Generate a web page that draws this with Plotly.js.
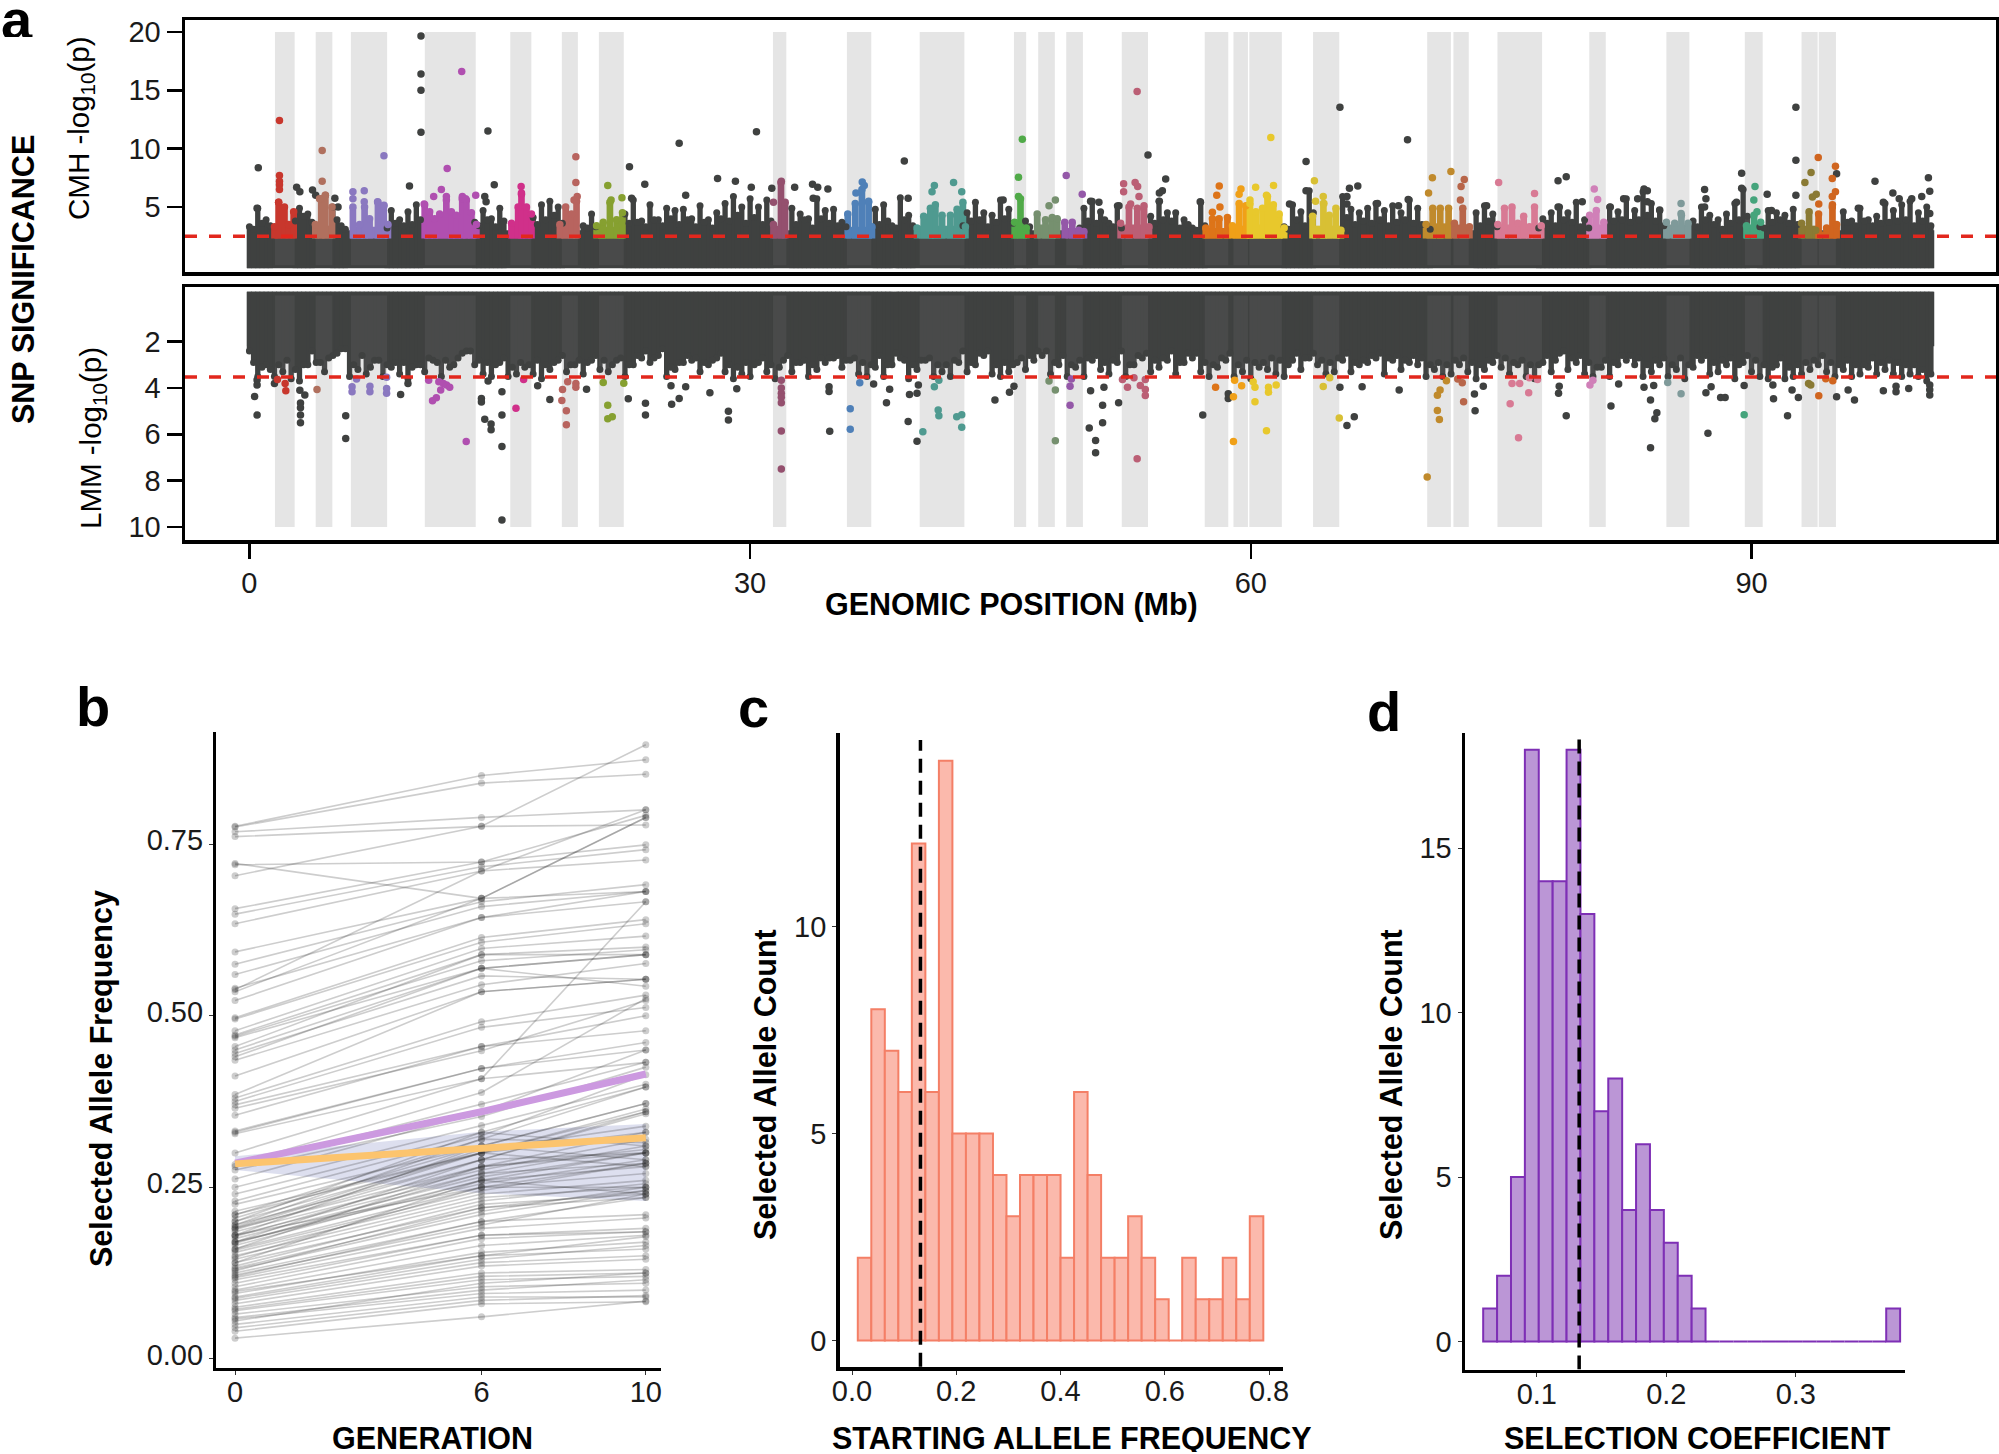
<!DOCTYPE html>
<html>
<head>
<meta charset="utf-8">
<script src="https://cdn.plot.ly/plotly-3.0.1.min.js"></script>
<style>html,body{margin:0;padding:0;background:#fff}</style>
</head>
<body>
<div id="chart"></div>
<script>
'use strict';

// candidate regions, Mb
const regionStart = [1.53,3.97,6.08,10.51,15.63,18.72,20.94,31.37,35.80,40.16,45.81,47.26,48.94,52.27,57.24,58.96,59.91,63.73,70.57,72.14,74.78,80.28,84.90,89.60,93.00,94.03];
const regionEnd   = [2.71,4.97,8.25,13.56,16.89,19.68,22.43,32.17,37.26,42.84,46.54,48.26,49.94,53.84,58.65,59.83,61.86,65.30,71.99,73.06,77.45,81.27,86.28,90.67,93.96,95.06];
const regionColor = ['#c8372d','#b0705e','#8a78c0','#b04fb0','#d0308a','#b8645f','#86a030','#94506e','#4f80b8','#4f9a90','#50aa48','#76906f','#9458a8','#bb5f75','#dd7418','#f0a018','#e8c82c','#d8c034','#c08a2c','#b8664a','#d87a94','#d080b8','#7f9a9a','#45a47c','#8a7a34','#d0651f'];
const regionSolidTop = [3.3,3.4,3.3,3.6,3.6,3.4,3.3,3.4,3.3,3.4,3.3,3.5,3.2,3.5,3.2,3.4,3.5,3.4,3.6,3.5,3.5,3.5,3.5,3.5,3.4,2.9];

const massStart = [-0.15,38.7];
const massEnd   = [38.55,100.95];

const cmhThreshold = 2.49;
const lmmThreshold = 3.52;

// dark skyline above the solid mass, one value per 0.5 Mb from 0; 0 = covered by a region
const cmhSkyline = [
  3.3,4.9,3.9,0,0,0,4.9,4.4,0,0,5.0,3.4,0,0,0,0,0,4.7,3.9,4.6,
  5.2,0,0,0,0,0,0,3.7,4.7,4.0,4.9,0,0,0,4.1,5.2,5.5,5.0,0,0,
  3.4,4.4,0,0,0,4.4,5.6,3.8,5.2,3.9,4.9,4.7,4.8,4.0,5.1,3.9,4.5,5.3,5.9,5.0,
  5.7,5.0,5.6,0,0,4.9,4.4,4.0,5.7,4.7,4.8,3.7,0,0,0,4.8,5.2,3.4,5.8,4.3,
  0,0,0,0,0,0,4.5,5.4,4.5,4.3,5.6,4.8,0,3.8,0,0,0,0,0,0,
  4.9,5.5,4.6,3.6,5.1,0,0,0,4.2,5.5,4.5,4.5,3.9,3.2,5.4,0,0,0,0,0,
  0,0,0,0,3.3,5.2,4.6,6.4,0,0,0,5.9,4.8,4.5,4.9,5.3,4.7,5.1,4.5,5.6,
  4.9,3.5,0,0,0,0,0,4.5,5.1,4.4,0,0,0,0,0,4.0,4.5,5.0,4.5,5.4,
  3.9,0,0,5.0,4.6,5.7,4.7,6.3,5.3,4.7,0,0,0,3.8,5.0,4.3,3.9,4.4,5.3,6.5,
  0,3.3,4.7,4.5,4.3,4.8,0,0,0,0,0,4.6,3.8,4.9,3.9,4.2,5.3,4.7,5.2,5.5,4.5,5.0
];
// lower columns in between, one per 0.5 Mb from 0.25
const cmhShoulder = [
  3.1,3.6,3.4,0,0,3.8,4.2,3.7,0,0,3.9,3.1,0,0,0,0,3.2,3.6,3.4,3.5,
  3.9,0,0,0,0,0,0,3.4,3.9,3.3,3.8,0,0,0,3.5,3.9,4.3,3.6,0,0,
  3.2,3.3,0,0,0,3.6,3.7,3.3,3.9,3.4,4.0,3.5,3.9,3.3,3.7,3.2,4.0,3.8,4.3,3.6,
  4.1,3.5,3.8,0,0,3.5,3.9,3.2,4.0,3.6,3.4,3.3,0,0,0,3.5,3.8,3.2,3.9,3.4,
  0,0,0,0,0,3.4,3.8,3.9,3.3,3.7,4.0,3.6,0,3.3,0,0,0,0,0,3.2,
  3.8,3.6,3.9,3.3,3.2,0,0,0,3.6,3.9,3.8,3.2,3.5,3.0,3.4,0,0,0,0,0,
  0,0,0,0,3.1,3.9,3.4,4.5,0,0,0,4.1,3.5,3.8,3.6,3.9,3.4,3.7,3.9,3.6,
  3.5,3.1,0,0,0,0,0,3.4,3.8,3.3,0,0,0,0,3.2,3.6,3.4,3.9,3.7,3.3,
  3.2,0,0,3.8,3.9,3.7,3.9,4.3,3.8,3.4,0,0,0,3.3,3.9,3.5,3.1,3.6,3.9,4.2,
  0,3.2,3.7,3.9,3.6,3.5,0,0,0,0,0,3.7,3.4,3.8,3.4,3.6,3.7,3.8,3.9,3.4,3.8,3.4
];
const lmmSkyline = [
  2.4,3.5,3.0,3.5,3.3,3.6,3.7,3.0,2.9,3.3,2.6,2.3,3.5,3.2,3.4,2.8,3.5,3.1,3.4,3.6,
  3.0,3.3,2.8,3.5,3.1,2.7,2.4,3.0,3.4,3.5,2.9,3.5,3.4,3.1,3.4,3.6,3.2,2.8,3.3,3.0,
  3.4,2.8,3.2,3.3,2.8,3.5,3.0,2.7,2.9,2.6,3.5,3.2,2.9,2.8,3.3,3.0,2.7,3.3,3.6,3.4,
  3.5,2.9,3.3,3.6,2.8,3.3,2.9,3.5,3.2,2.9,2.7,3.1,2.8,3.4,3.5,3.1,3.5,3.0,2.7,3.6,
  3.2,2.8,3.5,3.3,3.5,2.9,3.3,3.0,2.6,3.4,3.5,3.3,2.9,3.2,2.8,2.6,3.4,3.0,3.5,3.1,
  3.5,2.8,3.2,3.4,2.9,3.5,3.0,2.7,3.3,3.1,2.8,3.4,2.9,2.7,3.3,3.5,3.1,2.8,3.5,3.3,
  3.6,3.1,3.2,3.4,3.5,2.8,3.2,2.7,3.0,3.4,3.3,2.8,3.3,3.0,2.9,2.7,3.4,2.8,3.2,2.9,
  3.0,3.5,3.2,3.5,3.4,3.0,3.3,3.6,3.2,2.9,3.1,3.4,3.0,3.5,3.6,2.9,3.3,2.5,3.2,2.9,
  3.4,3.5,3.1,3.5,3.0,2.8,3.0,3.5,3.3,3.0,3.5,3.2,3.6,3.1,2.8,3.4,3.3,3.0,3.6,2.9,
  3.3,3.5,3.6,3.0,3.6,3.5,3.4,3.2,3.0,3.3,3.5,3.2,3.5,3.4,3.1,3.4,3.2,3.4,3.5,3.4,3.5,3.7
];
const lmmShoulder = [
  2.9,3.1,3.2,3.0,2.8,3.2,3.0,2.4,2.9,2.7,2.5,2.3,3.0,2.6,3.1,2.8,3.0,2.9,2.9,3.1,
  3.0,2.7,2.9,2.8,3.0,2.5,2.4,2.8,2.9,3.0,2.7,3.1,2.9,3.0,2.8,3.0,2.9,2.6,3.0,2.8,
  2.9,2.6,2.8,3.0,2.7,3.0,2.6,2.4,2.7,2.3,3.1,2.9,2.6,2.7,2.9,2.8,2.5,3.0,3.1,2.9,
  3.0,2.7,3.0,3.1,2.6,2.9,2.8,3.0,2.7,2.7,2.6,2.8,2.7,2.9,3.0,2.6,3.0,2.5,2.8,3.0,
  2.8,2.7,3.0,3.0,2.8,2.4,2.9,2.5,2.4,3.0,2.9,3.0,2.7,2.6,2.4,2.4,2.9,2.6,3.0,2.8,
  2.7,2.6,2.9,2.8,2.4,3.0,2.6,2.5,2.8,2.7,2.4,2.9,2.5,2.5,2.9,3.0,2.7,2.5,3.0,2.8,
  2.9,2.9,2.7,2.8,3.0,2.5,2.7,2.5,2.8,2.9,2.7,2.5,2.9,2.8,2.6,2.5,2.7,2.6,2.8,2.6,
  2.7,3.0,2.9,3.0,2.8,2.7,2.9,3.0,2.8,2.6,2.7,2.9,2.8,3.0,3.0,2.6,2.8,2.4,2.7,2.6,
  2.9,3.1,2.8,2.9,2.6,2.6,2.7,3.0,2.8,2.7,3.0,2.7,3.0,2.6,2.6,2.9,2.8,2.7,3.0,2.6,
  2.8,3.0,3.1,2.7,3.1,3.0,2.9,2.8,2.6,2.9,3.0,2.8,3.0,3.0,2.7,2.9,2.8,2.9,3.0,3.0,3.2,3.4
];

// single dark SNPs [Mb, -log10 p]
const cmhDark = [[.53,8.37],[.46,4.9],[2.83,6.7],[3.02,6.3],[3.78,6.45],[3.97,6],[5.12,5.75],[5.31,5],[10.28,19.65],[10.28,16.4],[10.28,15],[10.28,11.4],[9.59,6.8],[14.29,11.5],[14.67,6.9],[14.1,5.9],[14.18,5.45],[22.77,8.45],[23.69,6.95],[22.9,5.75],[25.75,10.45],[28.05,7.45],[26.14,6],[29.12,7.2],[30.07,6.7],[30.38,11.45],[31.3,6.6],[32.67,6.7],[33.74,6.95],[34.05,6.7],[34.66,6.55],[33.78,5.75],[39.24,8.95],[39.47,5.75],[45.16,5.6],[53.84,9.45],[54.9,7.4],[54.7,6.4],[54.52,6.2],[54.52,5.5],[50.9,5.4],[50.4,5.5],[52.1,5.1],[56.97,5.45],[65.34,13.55],[63.31,8.9],[63.31,6.4],[66.41,6.8],[65.91,6.6],[65.76,5.9],[65.76,5.25],[62.32,5.25],[67.59,5.3],[69.43,5.65],[69.39,10.75],[68.85,5.1],[74.13,5.1],[78.41,7.25],[78.9,7.6],[78.41,5],[79.86,5.45],[83.56,6.55],[83.76,6.4],[82.34,5.7],[83.18,5.7],[81.54,5],[83.76,5.45],[87.19,6.5],[87.27,5.7],[87.19,5],[89.1,5.4],[89.41,7.9],[89.41,6.6],[90.94,6.1],[92.66,13.55],[92.66,9],[92.66,6],[95.1,7.85],[97.4,7.2],[98.47,6.2],[97.9,5.4],[98.85,5.7],[99.6,5.7],[100.2,5.9],[100.6,7.5],[100.68,6.35],[100.68,4.45],[84.5,4.75],[96.4,4.9],[91.2,4.7]];
const lmmDark = [[.31,4.37],[.46,5.17],[.46,3.65],[.46,3.87],[1.5,3.8],[3.02,4.1],[3.32,4.3],[3.06,4.65],[3.06,4.85],[3.06,5.17],[3.06,5.5],[5.77,5.2],[5.77,6.18],[9.06,4.28],[9.5,3.8],[13.9,4.45],[13.9,4.6],[14.3,3.7],[14.1,5.35],[14.48,5.55],[14.48,5.8],[15.13,5.17],[15.13,4.16],[15.13,6.53],[15.13,9.7],[17.27,3.9],[18,4.5],[20.2,4.05],[22.7,4.46],[23.73,4.66],[23.73,5.17],[25.26,3.9],[25.3,4.7],[25.75,4.45],[26.14,3.95],[27.59,4.2],[28.7,5],[28.7,5.38],[29.2,4.03],[34.77,5.87],[34.73,3.95],[34.73,4.15],[37.4,3.83],[38.36,4.05],[38.17,4.64],[39.47,5.45],[39.55,4.28],[40,6.3],[40.08,3.87],[40,4.23],[44.67,4.52],[45.54,4.18],[45.81,3.92],[50.32,5.73],[50.7,6.27],[50.7,6.8],[51.12,5.5],[51.12,4.74],[50.4,4.12],[51.2,3.97],[52.08,4.64],[57.12,5.17],[58.65,4.45],[58.65,4.25],[65.34,3.97],[66.2,5.24],[65.76,5.62],[66.67,3.95],[68.89,4.09],[73.4,4.26],[73.44,4.98],[73.93,3.92],[78.48,3.92],[78.44,4.23],[78.9,5.2],[81.58,4.78],[82.04,3.83],[83.56,3.97],[84.14,3.89],[83.95,4.52],[84.33,5.07],[84.21,5.33],[83.95,6.58],[87.39,5.95],[87.27,4.2],[87.58,3.95],[88.15,4.41],[88.42,4.41],[89.56,3.89],[91.32,4.46],[91.28,3.87],[92.16,5.2],[92.43,4.09],[92.81,4.41],[95.1,4.38],[95.79,4.09],[96.17,4.52],[97.9,4.12],[98.66,3.92],[98.66,4.16],[99.42,4.02],[100.68,3.87],[100.68,4.3],[100.68,4.08]];

// coloured columns inside the regions [region, Mb, top]
const cmhColumns = [
  [0,1.5,3.3],[0,1.75,5.4],[0,2.1,5],[0,2.35,3.5],[0,2.65,4.6],
  [1,3.95,3.5],[1,4.3,5.7],[1,4.55,6],[1,4.95,5],
  [2,6.2,5],[2,6.6,3.5],[2,6.9,5],[2,7.2,4],[2,7.7,5.4],[2,8.05,5.1],[2,8.3,3.5],
  [3,10.5,5.2],[3,10.8,4.6],[3,11.1,4],[3,11.4,4.4],[3,11.8,5.6],[3,12.1,4.6],[3,12.4,4.3],[3,12.75,5.7],[3,13,5.6],[3,13.3,4.5],[3,13.6,3.5],
  [4,15.7,3.6],[4,16.1,5],[4,16.3,6.1],[4,16.6,5],[4,16.9,4.4],
  [5,18.6,3.5],[5,18.95,5],[5,19.3,4.4],[5,19.6,5.5],
  [6,20.8,3.4],[6,21.2,3.7],[6,21.6,5.4],[6,22,3.9],[6,22.35,4.5],
  [7,31.4,3.5],[7,31.85,7.1],[7,32.1,5.4],
  [8,35.85,4.4],[8,36.3,5.3],[8,36.7,6.5],[8,37.1,5.4],[8,37.3,3.3],
  [9,40,3.2],[9,40.4,4.2],[9,40.8,4.9],[9,41.1,5.2],[9,41.5,4.3],[9,42,4.3],[9,42.4,4.8],[9,42.75,5.4],[9,42.9,3.3],
  [10,45.85,3.7],[10,46.2,5.7],[10,46.55,3.2],
  [11,47.2,4.4],[11,47.7,3.9],[11,48.1,4.1],[11,48.4,4],
  [12,48.85,3.7],[12,49.3,3.7],[12,49.7,3],[12,50,2.9],
  [13,52.2,3.6],[13,52.7,5],[13,53.2,4.9],[13,53.6,5.1],[13,53.9,3.3],
  [14,57.3,3.2],[14,57.7,4],[14,58.1,4],[14,58.6,4.1],
  [15,58.9,3.4],[15,59.3,5.3],[15,59.7,5.1],
  [16,59.95,5.3],[16,60.3,4.6],[16,60.7,4.9],[16,61,5.9],[16,61.35,5.2],[16,61.7,4.4],[16,62,3.2],
  [17,63.7,4.2],[17,64.35,5.3],[17,64.7,4.3],[17,65.1,4.9],[17,65.4,3],
  [18,70.5,3.5],[18,70.9,4.9],[18,71.35,4.9],[18,71.85,4.9],
  [19,72.2,3.6],[19,72.7,4.9],[19,73.1,3.3],
  [20,74.8,3.5],[20,75.2,4.9],[20,75.65,5],[20,76,3.6],[20,76.35,4.2],[20,76.7,3.3],[20,77,5],[20,77.4,3.4],
  [21,80.3,4.3],[21,80.7,4.7],[21,81.15,3.7],
  [22,84.9,3.7],[22,85.4,3.6],[22,85.8,4.3],[22,86.2,3.6],
  [23,89.7,3.4],[23,90.15,4.3],[23,90.55,3.7],
  [24,93,3.6],[24,93.45,4.6],[24,93.85,3],
  [25,94.02,4.4],[25,94.5,3.2],[25,94.85,5.2],[25,95.1,3.5]
];

// coloured single SNPs [region, Mb, -log10 p]
const cmhHits = [
  [0,1.8,12.4],[0,1.8,7.7],[0,1.8,7.2],[0,1.8,6.9],[0,1.8,6.5],[0,1.75,5.4],
  [1,4.36,9.85],[1,4.36,7.2],[1,4.55,6],[1,4.2,5.7],
  [2,8.06,9.4],[2,6.2,6.3],[2,6.2,5.7],[2,6.88,6.4],[2,6.88,5.45],[2,7.68,5.45],[2,8.06,5.15],
  [3,12.72,16.6],[3,11.85,8.3],[3,11.5,6.5],[3,11.04,5.9],[3,11.8,5.9],[3,12.76,5.9],[3,12.95,5.7],[3,13.56,6],[3,10.47,5.25],
  [4,16.28,6.75],[4,16.3,6.2],
  [5,19.56,9.3],[5,19.56,7.1],[5,19.64,5.9],[5,19.45,5.6],
  [6,21.47,6.85],[6,22.32,5.8],[6,21.67,5.6],
  [7,31.87,7.2],[7,31.4,5.4],
  [8,36.72,7.15],[8,36.84,6.85],[8,36.34,6.2],[8,37.1,5.5],
  [9,41.04,6.85],[9,42.19,7.1],[9,40.9,6.3],[9,42.68,6.3],
  [10,46.31,10.8],[10,46.08,7.55],[10,46.08,5.9],
  [11,48.29,5.6],[11,47.91,5.1],
  [12,48.94,7.7],[12,49.9,6.1],
  [13,53.19,14.9],[13,52.38,7],[13,52.38,6.3],[13,53.07,7.1],[13,53.22,6.75],[13,53.3,5.9],[13,52.8,5.25],
  [14,58.11,6.8],[14,57.96,6],[14,58.15,5],[14,57.7,4.55],
  [15,59.41,6.55],[15,59.3,6.1],
  [16,61.2,10.95],[16,61.36,6.85],[16,60.29,6.7],[16,59.95,5.6],[16,60.94,6],
  [17,63.81,7.25],[17,64.34,5.9],[17,63.88,5.5],[17,64.38,5.3],
  [18,70.88,7.5],[18,71.99,8.05],[18,70.65,6.2],
  [19,72.79,7.35],[19,72.6,6.75],[19,72.56,5.6],
  [20,74.85,7.1],[20,77,6.15],
  [21,80.58,6.55],[21,80.78,5.65],
  [22,85.78,5.3],[22,85.78,4.45],
  [23,90.21,6.75],[23,90.14,5.6],[23,90.33,4.6],
  [24,93.57,7.95],[24,93.2,7.1],[24,93.88,6.1],[24,93.65,5.85],
  [25,94,9.25],[25,95.03,8.5],[25,94.84,7.45],[25,95.03,6.3],[25,94.84,5.9],[25,94.03,5.25],[25,94.84,5]
];
const lmmHits = [
  [0,1.68,3.63],[0,2.14,3.8],[0,2.18,4.12],
  [1,4.05,4.06],
  [2,6.42,3.61],[2,6.15,3.95],[2,6.15,4.16],[2,7.22,3.92],[2,7.22,4.16],[2,8.22,3.54],[2,8.22,4.02],[2,8.22,4.23],
  [3,10.74,3.66],[3,11.35,3.73],[3,11.62,3.8],[3,11.81,3.87],[3,12,3.97],[3,11.46,4.09],[3,11.2,4.42],[3,10.97,4.55],[3,12.99,6.31],
  [4,16.43,3.63],[4,15.97,4.87],
  [5,18.76,4.06],[5,18.72,4.54],[5,18.99,4.98],[5,18.99,5.59],[5,19.07,3.73],[5,19.56,3.8],[5,19.56,3.97],
  [6,21.2,3.76],[6,22.43,3.79],[6,21.47,4.75],[6,21.74,5.24],[6,21.47,5.33],
  [7,31.87,3.66],[7,31.87,4],[7,31.87,4.23],[7,31.87,4.4],[7,31.87,4.64],[7,31.87,5.86],[7,31.87,7.5],
  [8,36.57,3.77],[8,36,4.9],[8,36,5.78],
  [9,41.31,3.66],[9,41.04,3.95],[9,41.27,4.95],[9,41.31,5.2],[9,42.38,5.24],[9,42.68,5.15],[9,42.68,5.69],[9,40.35,5.89],
  [11,47.91,3.7],[11,48.29,4.09],[11,48.29,6.28],
  [12,49.25,3.61],[12,49.17,3.92],[12,49.17,4.74],
  [13,52.31,3.63],[13,53,3.56],[13,53.68,3.63],[13,52.61,3.97],[13,53.38,3.89],[13,53.68,4.06],[13,53.68,4.32],[13,53.19,7.06],
  [14,57.89,3.97],
  [15,59.03,3.66],[15,59.45,3.9],[15,58.96,4.38],[15,58.96,6.31],
  [16,60.14,3.73],[16,60.25,3.97],[16,61.06,3.97],[16,61.06,4.18],[16,61.52,3.87],[16,60.25,4.59],[16,60.94,5.85],
  [17,64.73,3.56],[17,64.34,3.93],[17,65.3,5.29],
  [18,71.72,3.69],[18,71.34,4.09],[18,71.18,4.31],[18,71.18,4.97],[18,71.3,5.36],[18,70.57,7.84],
  [19,72.67,3.77],[19,72.4,3.61],[19,72.75,4.59],
  [20,75.65,3.8],[20,76.11,3.8],[20,76.69,3.56],[20,77.18,3.63],[20,76.65,4.2],[20,75.54,4.68],[20,76.04,6.15],
  [21,80.5,3.66],[21,80.32,3.87],
  [22,84.98,3.76],[22,85.78,4.25],
  [23,89.56,5.16],
  [24,93.42,3.8],[24,93.55,3.87],
  [25,94.45,3.6],[25,94.87,3.69],[25,94.03,4.33]
];

// panel b: allele trajectories [gen 0, gen 6, gen 10]
const generations = [0,6,10];
const trajectories = [
  [.776,.85,.873],[.775,.839,.852],[.768,.789,.8],[.761,.776,.778],[.722,.671,.681],[.72,.724,.749],[.704,.776,.895],
  [.656,.724,.792],[.648,.717,.742],[.634,.711,.727],[.593,.671,.789],[.575,.666,.691],[.56,.659,.681],[.54,.643,.681],
  [.538,.711,.8],[.535,.671,.789],[.522,.643,.666],[.497,.614,.64],[.495,.607,.634],[.478,.598,.616],[.472,.589,.6],
  [.47,.58,.596],[.468,.569,.589],[.455,.589,.589],[.45,.569,.543],[.445,.558,.553],[.44,.569,.589],[.435,.545,.576],
  [.412,.535,.553],[.385,.535,.553],[.38,.491,.53],[.375,.483,.512],[.37,.455,.5],[.365,.449,.522],[.355,.455,.478],
  [.332,.423,.461],[.33,.423,.45],[.328,.408,.432],[.3,.408,.666],[.283,.388,.525],[.28,.371,.432],[.275,.353,.425],
  [.262,.36,.45],[.25,.34,.4],[.24,.33,.396],[.23,.325,.414],[.225,.31,.372],[.215,.3,.36],[.21,.32,.396],[.205,.31,.372],
  [.2,.3,.364],[.195,.29,.357],[.192,.305,.339],[.19,.28,.33],[.188,.29,.36],[.185,.275,.32],[.18,.27,.31],[.178,.28,.305],
  [.175,.265,.3],[.17,.255,.29],[.168,.27,.285],[.165,.26,.28],[.16,.25,.285],[.158,.245,.285],[.155,.24,.26],[.15,.235,.25],
  [.148,.25,.27],[.145,.23,.255],[.14,.22,.245],[.135,.225,.24],[.132,.215,.25],[.13,.21,.245],[.128,.22,.235],[.125,.2,.235],
  [.122,.195,.24],[.12,.2,.21],[.118,.19,.205],[.115,.18,.185],[.11,.18,.19],[.105,.175,.185],[.1,.165,.18],[.098,.15,.178],
  [.095,.155,.17],[.09,.15,.16],[.088,.145,.165],[.085,.14,.15],[.08,.135,.145],[.075,.125,.13],[.072,.12,.125],[.07,.115,.12],
  [.065,.105,.11],[.06,.1,.115],[.058,.095,.1],[.055,.11,.125],[.05,.09,.09],[.045,.085,.092],[.04,.08,.083],[.03,.061,.084],
  [.19,.3,.28],[.18,.31,.29],[.17,.29,.3],[.16,.28,.3],[.14,.26,.3],[.2,.33,.31],[.195,.32,.315],[.21,.3,.33],[.18,.25,.25],[.17,.26,.24]
];
const meanObserved = [.285,.36,.415];
const meanNeutral  = [.284,.307,.322];
const neutralUpper = [.295,.331,.342];
const neutralLower = [.275,.241,.23];

// panels c, d: histograms
const startBinFirst = 0.0111, startBinWidth = 0.02593;
const startCounts = [2,8,7,6,12,6,14,5,5,5,4,3,4,4,4,2,6,4,2,2,3,2,1,0,2,1,1,2,1,3];
const startMedian = 0.1313;
const selBinFirst = 0.0586, selBinWidth = 0.01073;
const selCounts = [1,2,5,18,14,14,18,13,7,8,4,6,4,3,2,1,0,0,0,0,0,0,0,0,0,0,0,0,0,1];
const selMedian = 0.1327;

const W = 1999, H = 1454;
const DARK = '#3f4140';
const FONT = '"Liberation Sans", Arial, sans-serif';
const xDom = (a, b) => [a / W, b / W];
const yDom = (top, bottom) => [1 - bottom / H, 1 - top / H];

let traces = [];

function bar(x, base, height, width, color, axes) {
    traces.push({type: 'bar', x: x, y: height, base: base, width: width, xaxis: axes[0], yaxis: axes[1],
        marker: {color: color, line: {width: 0}}, hoverinfo: 'skip', showlegend: false});
}

function dots(x, y, color, size, axes) {
    traces.push({type: 'scatter', mode: 'markers', x: x, y: y, xaxis: axes[0], yaxis: axes[1],
        marker: {color: color, size: size, line: {width: 0}}, hoverinfo: 'skip', showlegend: false});
}

function darkColumns(values, offset, massBottom, axes) {
    let sx = [], sy = [];
    values.forEach((v, i) => {
        if (v > 0) {
            sx.push(i * 0.5 + offset);
            sy.push(v);
        }
    });
    bar(sx, sx.map(() => massBottom), sy.map(v => v - massBottom), sx.map(() => 0.32), DARK, axes);
    dots(sx, sy, DARK, 7, axes);
}

function manhattan(axes, skyline, shoulder, solidTop, massBottom, rectTop, darkPts, hits) {
    let mx = massStart.map((s, i) => (s + massEnd[i]) / 2);
    let mw = massStart.map((s, i) => massEnd[i] - s);
    bar(mx, massStart.map(() => massBottom), massStart.map(() => solidTop - massBottom), mw, DARK, axes);

    darkColumns(skyline, 0, massBottom, axes);
    darkColumns(shoulder, 0.25, massBottom, axes);

    // grey region overlays go over the dark mass but under the colours
    bar(regionStart.map((s, i) => (s + regionEnd[i]) / 2), regionStart.map(() => 0), regionStart.map(() => rectTop),
        regionStart.map((s, i) => regionEnd[i] - s), 'rgba(115,115,115,0.19)', axes);

    dots(darkPts.map(p => p[0]), darkPts.map(p => p[1]), DARK, 7.5, axes);
    dots(hits.map(p => p[1]), hits.map(p => p[2]), hits.map(p => regionColor[p[0]]), 7.5, axes);
}

// panel a, top
manhattan(['x', 'y'], cmhSkyline, cmhShoulder, 3.0, -0.24, 20, cmhDark, []);
bar(regionStart.map((s, i) => (s + regionEnd[i]) / 2), regionStart.map(() => 2.3), regionSolidTop.map(v => v - 2.3),
    regionStart.map((s, i) => regionEnd[i] - s + 0.1), regionColor, ['x', 'y']);
bar(cmhColumns.map(c => c[1]), cmhColumns.map(() => 2.3), cmhColumns.map(c => c[2] - 2.3), cmhColumns.map(() => 0.4),
    cmhColumns.map(c => regionColor[c[0]]), ['x', 'y']);
dots(cmhColumns.map(c => c[1]), cmhColumns.map(c => c[2]), cmhColumns.map(c => regionColor[c[0]]), 7.5, ['x', 'y']);
dots(cmhHits.map(p => p[1]), cmhHits.map(p => p[2]), cmhHits.map(p => regionColor[p[0]]), 7.5, ['x', 'y']);

// panel a, bottom
manhattan(['x2', 'y2'], lmmSkyline, lmmShoulder, 2.2, -0.16, 10, lmmDark, lmmHits);

// panel b
traces.push({type: 'scatter', mode: 'lines', xaxis: 'x3', yaxis: 'y3', showlegend: false, hoverinfo: 'skip',
    x: generations.concat(generations.slice().reverse()),
    y: neutralUpper.concat(neutralLower.slice().reverse()),
    fill: 'toself', fillcolor: 'rgba(118,128,190,0.25)', line: {width: 0}});
trajectories.forEach(t => {
    traces.push({type: 'scatter', mode: 'lines+markers', x: generations, y: t, xaxis: 'x3', yaxis: 'y3',
        line: {color: 'rgba(45,45,45,0.24)', width: 1.6}, marker: {color: 'rgba(45,45,45,0.24)', size: 7},
        hoverinfo: 'skip', showlegend: false});
});
traces.push({type: 'scatter', mode: 'lines', x: generations, y: meanObserved, xaxis: 'x3', yaxis: 'y3',
    line: {color: '#cc99e0', width: 7}, hoverinfo: 'skip', showlegend: false});
traces.push({type: 'scatter', mode: 'lines', x: generations, y: meanNeutral, xaxis: 'x3', yaxis: 'y3',
    line: {color: '#fcc46e', width: 7}, hoverinfo: 'skip', showlegend: false});

// panels c, d
function hist(first, width, counts, fill, edge, xa, ya) {
    traces.push({type: 'bar', x: counts.map((_, i) => first + (i + 0.5) * width), y: counts,
        width: counts.map(() => width), xaxis: xa, yaxis: ya,
        marker: {color: fill, line: {color: edge, width: 2}}, hoverinfo: 'skip', showlegend: false});
}
hist(startBinFirst, startBinWidth, startCounts, '#fbb9ac', '#f47f66', 'x4', 'y4');
hist(selBinFirst, selBinWidth, selCounts, '#bb96d6', '#7e2fb5', 'x5', 'y5');

function note(text, px, py, size, opts) {
    return Object.assign({text: text, x: px / W, y: 1 - py / H, xref: 'paper', yref: 'paper',
        showarrow: false, xanchor: 'center', yanchor: 'middle', align: 'center',
        font: {family: FONT, size: size, color: '#000'}}, opts || {});
}
const bold = s => '<b>' + s + '</b>';
const annotations = [
    note(bold('a'), 17, 19, 56, {height: 36}),
    note(bold('b'), 93, 706, 56),
    note(bold('c'), 753, 708, 56),
    note(bold('d'), 1384, 711, 56),
    note(bold('SNP SIGNIFICANCE'), 23, 280, 30.5, {textangle: -90}),
    note('CMH -log<sub>10</sub>(p)', 81, 128, 29.5, {textangle: -90}),
    note('LMM -log<sub>10</sub>(p)', 92, 438, 29.5, {textangle: -90}),
    note(bold('GENOMIC POSITION (Mb)'), 1011, 604, 30.5),
    note(bold('Selected Allele Frequency'), 101, 1079, 30.5, {textangle: -90}),
    note(bold('GENERATION'), 432, 1438, 30.5, {height: 28}),
    note(bold('Selected Allele Count'), 765, 1085, 30.5, {textangle: -90}),
    note(bold('STARTING ALLELE FREQUENCY'), 1072, 1438, 30.5, {height: 28}),
    note(bold('Selected Allele Count'), 1391, 1085, 30.5, {textangle: -90}),
    note(bold('SELECTION COEFFICIENT'), 1697, 1438, 30.5, {height: 28})
];

const RED = '#e2271d';
const shapes = [
    {type: 'line', xref: 'paper', yref: 'y', x0: 185 / W, x1: 1996 / W, y0: cmhThreshold, y1: cmhThreshold,
        line: {color: RED, width: 3.5, dash: '12px,12px'}},
    {type: 'line', xref: 'paper', yref: 'y2', x0: 185 / W, x1: 1996 / W, y0: lmmThreshold, y1: lmmThreshold,
        line: {color: RED, width: 3.5, dash: '12px,12px'}},
    {type: 'line', xref: 'x4', yref: 'y4', x0: startMedian, x1: startMedian, y0: -0.63, y1: 14.5,
        line: {color: '#000', width: 3.5, dash: '14px,8px'}},
    {type: 'line', xref: 'x5', yref: 'y5', x0: selMedian, x1: selMedian, y0: -0.85, y1: 18.5,
        line: {color: '#000', width: 3.5, dash: '14px,8px'}}
];

const tickFont = {family: FONT, size: 29, color: '#1a1a1a'};
const boxAxis = {showgrid: false, zeroline: false, showline: true, mirror: true, linecolor: '#000', linewidth: 3.5};
const histAxis = {showgrid: false, zeroline: false, showline: true, linecolor: '#000', linewidth: 3.5,
    ticks: 'outside', ticklen: 4, tickwidth: 1, tickcolor: '#333', tickfont: tickFont};
const X_RANGE = [-3.86, 104.65];

const layout = {
    width: W, height: H, margin: {l: 0, r: 0, t: 0, b: 0},
    paper_bgcolor: '#fff', plot_bgcolor: 'rgba(0,0,0,0)', barmode: 'overlay', showlegend: false,
    font: {family: FONT}, annotations: annotations, shapes: shapes,

    xaxis: Object.assign({}, boxAxis, {domain: xDom(185, 1996), range: X_RANGE, showticklabels: false, ticks: ''}),
    yaxis: Object.assign({}, boxAxis, {domain: yDom(20, 272), range: [-0.57, 21.02], tickvals: [5, 10, 15, 20],
        ticks: 'outside', ticklen: 15, tickwidth: 2.5, tickcolor: '#000', tickfont: tickFont}),

    xaxis2: Object.assign({}, boxAxis, {domain: xDom(185, 1996), range: X_RANGE, anchor: 'y2', tickvals: [0, 30, 60, 90],
        ticks: 'outside', ticklen: 15, tickwidth: 2.5, tickcolor: '#000', tickfont: tickFont}),
    yaxis2: Object.assign({}, boxAxis, {domain: yDom(287, 540), range: [10.565, -0.363], anchor: 'x2', tickvals: [2, 4, 6, 8, 10],
        ticks: 'outside', ticklen: 15, tickwidth: 2.5, tickcolor: '#000', tickfont: tickFont}),

    xaxis3: Object.assign({}, histAxis, {domain: xDom(216.4, 661), range: [-0.454, 10.37], anchor: 'y3', tickvals: generations,
        ticklabelstandoff: -8}),
    yaxis3: Object.assign({}, histAxis, {domain: yDom(732, 1367.7), range: [-0.0131, 0.9135], anchor: 'x3',
        tickvals: [0, 0.25, 0.5, 0.75], tickformat: '.2f', ticklabelshift: -4}),

    xaxis4: Object.assign({}, histAxis, {domain: xDom(839.6, 1282.6), range: [-0.0238, 0.826], anchor: 'y4',
        tickvals: [0, 0.2, 0.4, 0.6, 0.8], tickformat: '.1f', ticklabelstandoff: -8}),
    yaxis4: Object.assign({}, histAxis, {domain: yDom(732.9, 1367), range: [-0.637, 14.67], anchor: 'x4', tickvals: [0, 5, 10]}),

    xaxis5: Object.assign({}, histAxis, {domain: xDom(1465, 1904.9), range: [0.04456, 0.3842], anchor: 'y5',
        tickvals: [0.1, 0.2, 0.3], tickformat: '.1f', ticklabelstandoff: -8}),
    yaxis5: Object.assign({}, histAxis, {domain: yDom(732.9, 1369.5), range: [-0.852, 18.51], anchor: 'x5', tickvals: [0, 5, 10, 15]})
};

Plotly.newPlot('chart', traces, layout, {staticPlot: true, displayModeBar: false});
</script>
</body>
</html>
